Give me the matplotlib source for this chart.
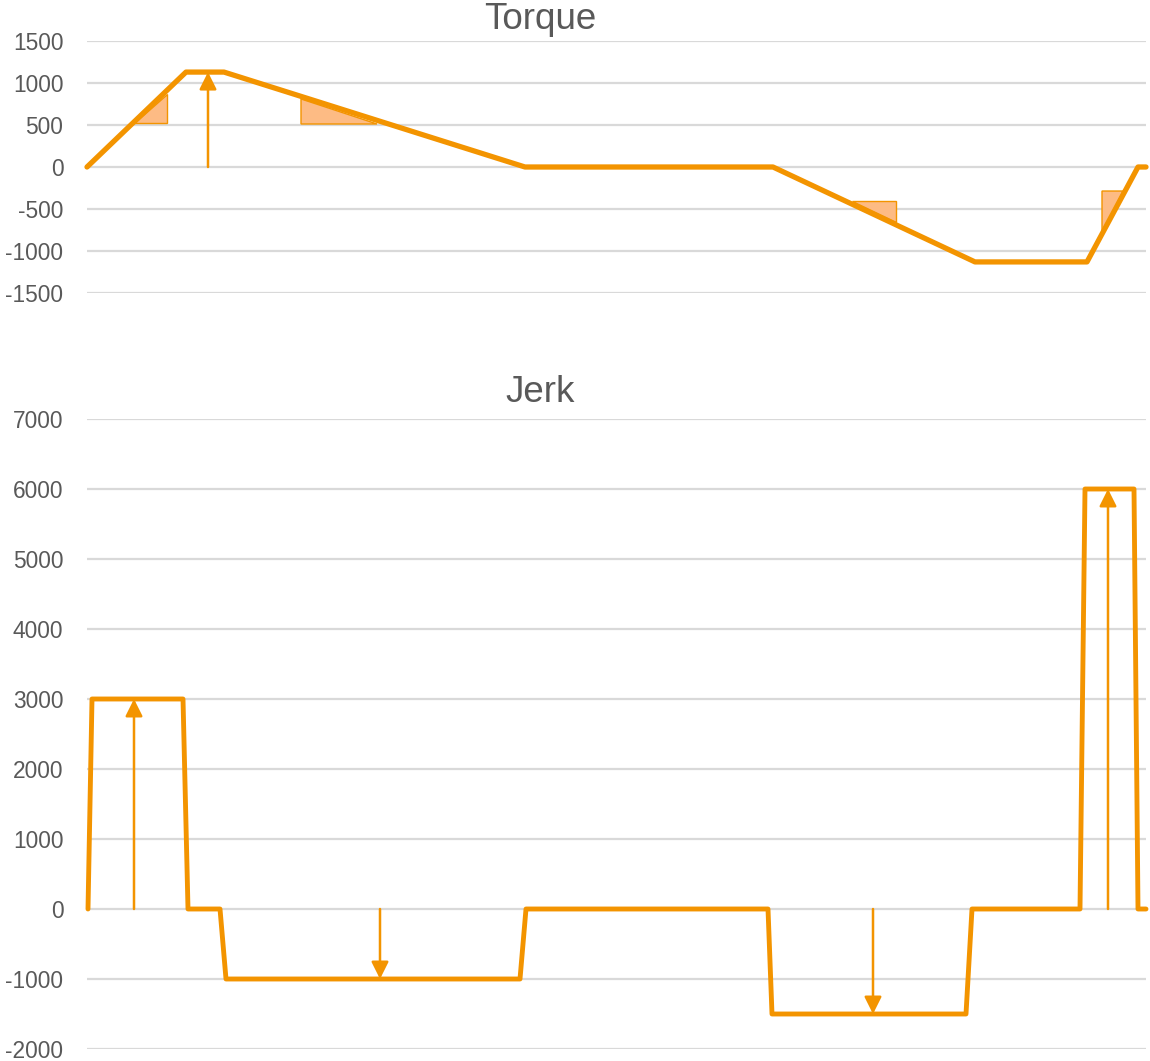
import matplotlib
matplotlib.use("Agg")
import matplotlib.pyplot as plt

# Motion profile samples (time in ms)
torque_t = [0, 99, 137, 438, 686, 888, 1000, 1051, 1059]
torque_v = [0, 1130, 1130, 0, 0, -1130, -1130, 0, 0]

jerk_t = [1, 5, 96, 101, 133, 139, 433, 439, 681, 685, 879, 885, 993, 998, 1047, 1051, 1059]
jerk_v = [0, 3000, 3000, 0, 0, -1000, -1000, 0, 0, -1500, -1500, 0, 0, 6000, 6000, 0, 0]

# Slope triangles on the torque ramps: (t, value) corners
torque_triangles = [
    [(47, 520), (80, 520), (80, 875)],
    [(214, 512), (290, 512), (214, 810)],
    [(765, -405), (809, -405), (809, -655)],
    [(1015, -286), (1036, -286), (1015, -786)],
]

# Vertical arrows: (t, start, end)
torque_arrows = [(121, 0, 1130)]
jerk_arrows = [(47, 0, 3000), (293, 0, -1000), (786, 0, -1500), (1021, 0, 6000)]

torque_ticks = [-1500, -1000, -500, 0, 500, 1000, 1500]
jerk_ticks = [-2000, -1000, 0, 1000, 2000, 3000, 4000, 5000, 6000, 7000]

ORANGE = "#F39400"
FILL = "#FDBB84"
GRID = "#D9D9D9"
TEXT = "#595959"

plt.rcParams["font.family"] = ["Liberation Sans", "DejaVu Sans"]

W, H = 1150, 1061
fig = plt.figure(figsize=(W / 100, H / 100), dpi=100)

left = 87 / W
width = (1146 - 87) / W
ax_t = fig.add_axes([left, 1 - 293 / H, width, (293 - 41) / H])
ax_j = fig.add_axes([left, 1 - 1049 / H, width, (1049 - 419) / H])


def style(ax, ticks):
    ax.set_xlim(0, 1059)
    ax.set_ylim(ticks[0], ticks[-1])
    ax.set_yticks(ticks)
    ax.set_yticklabels([str(v) for v in ticks])
    ax.set_xticks([])
    for s in ax.spines.values():
        s.set_visible(False)
    ax.grid(axis="y", color=GRID, linewidth=1.6)
    ax.set_axisbelow(True)
    ax.tick_params(axis="y", length=0, pad=17, labelsize=16.4, labelcolor=TEXT)


style(ax_t, torque_ticks)
style(ax_j, jerk_ticks)

for tri in torque_triangles:
    xs = [p[0] for p in tri]
    ys = [p[1] for p in tri]
    ax_t.fill(xs, ys, facecolor=FILL, edgecolor=ORANGE, linewidth=1.0, zorder=2)

ax_t.plot(torque_t, torque_v, color=ORANGE, linewidth=3.8,
          solid_joinstyle="round", solid_capstyle="round", zorder=3, clip_on=False)
ax_j.plot(jerk_t, jerk_v, color=ORANGE, linewidth=3.5,
          solid_joinstyle="round", solid_capstyle="round", zorder=3, clip_on=False)


def arrows(ax, items):
    for t, y0, y1 in items:
        ax.annotate("", xy=(t, y1), xytext=(t, y0),
                    arrowprops=dict(arrowstyle="-|>", color=ORANGE, lw=1.8,
                                    mutation_scale=26, shrinkA=0, shrinkB=0),
                    zorder=4)


arrows(ax_t, torque_arrows)
arrows(ax_j, jerk_arrows)

fig.text(540 / W, 1 - 29 / H, "Torque", ha="center", va="baseline",
         fontsize=26.5, color=TEXT)
fig.text(540 / W, 1 - 402 / H, "Jerk", ha="center", va="baseline",
         fontsize=26.5, color=TEXT)

fig.savefig("out.png", dpi=100, facecolor="white")
